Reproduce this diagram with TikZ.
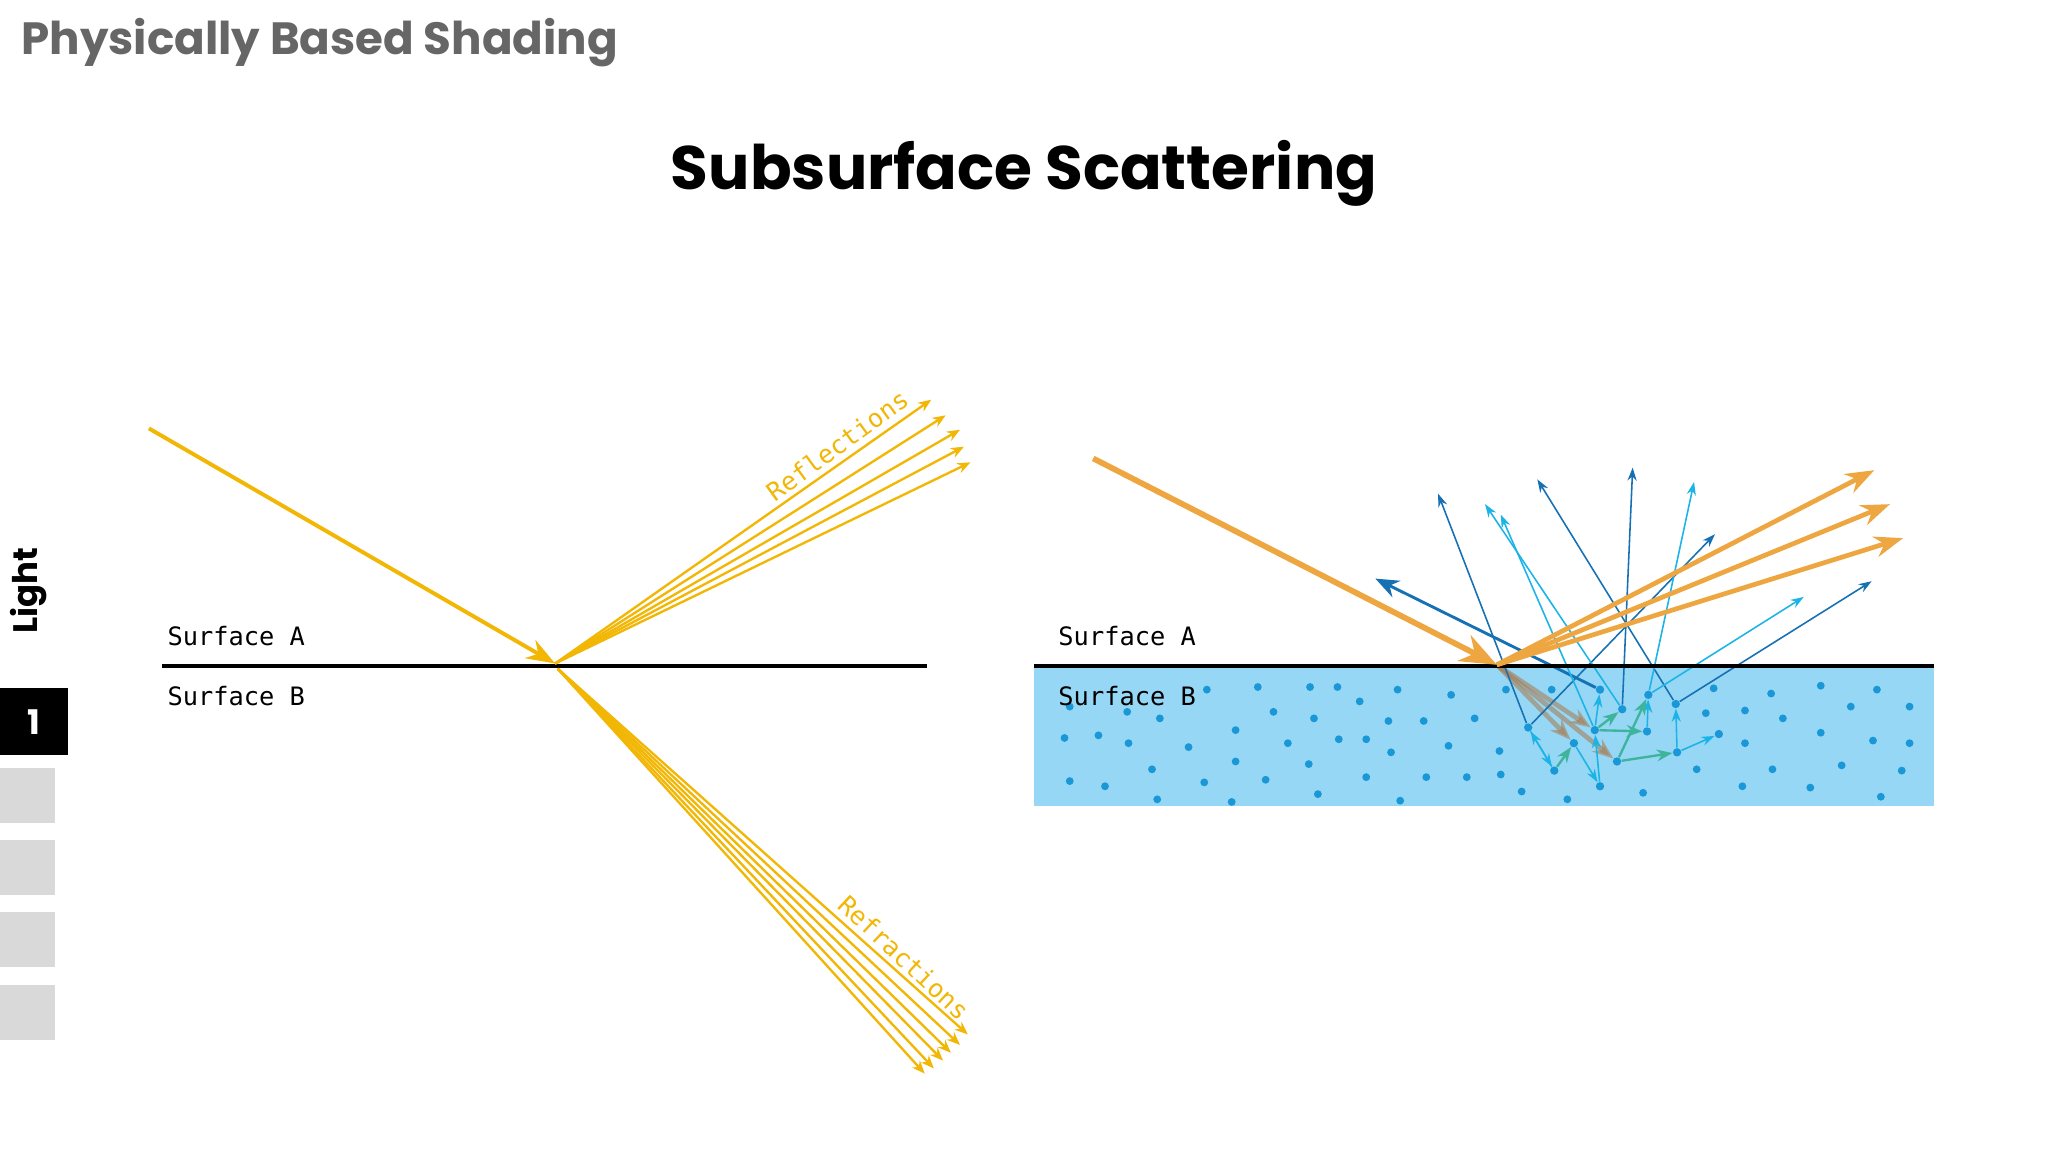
\documentclass[tikz,border=0pt]{standalone}
\usepackage{fontspec}
\setmainfont{Poppins}
\newfontfamily\monof{DejaVu Sans Mono}
\usetikzlibrary{arrows.meta}
\definecolor{ylw}{HTML}{F2B705}
\definecolor{org}{HTML}{EDA640}
\definecolor{water}{HTML}{95D7F4}
\definecolor{dotc}{HTML}{1A97D6}
\definecolor{dkb}{HTML}{1670B4}
\definecolor{ltb}{HTML}{1CB4E6}
\definecolor{grn}{HTML}{3FB49C}
\definecolor{hdr}{HTML}{666666}
\definecolor{tab}{HTML}{D9D9D9}
\tikzset{
 ray/.style={ylw,line width=0.9pt,-{Stealth[length=5pt,width=4pt]}},
 big/.style={org,line width=2.2pt,-{Stealth[length=14pt,width=11pt]}},
 bigr/.style={org,line width=1.8pt,-{Stealth[length=11pt,width=8pt]}},
 dk/.style={dkb,line width=0.6pt,-{Stealth[length=5pt,width=3.5pt]}},
 lt/.style={ltb,line width=0.6pt,-{Stealth[length=5pt,width=3.5pt]}},
 gr/.style={grn,line width=0.9pt,-{Stealth[length=6pt,width=4.5pt]}},
 inner/.style={gray!70!orange,opacity=0.6,line width=1.8pt,-{Stealth[length=8pt,width=6pt]}},
 lbl/.style={font=\monof\fontsize{9.7}{12}\selectfont,inner sep=0pt},
 dot/.style={circle,fill=dotc,inner sep=0pt,minimum size=3.2pt},
}
\begin{document}
\begin{tikzpicture}[x=0.5pt,y=-0.5pt]
\useasboundingbox (0,0) rectangle (1568,882);
\fill[white] (0,0) rectangle (1568,882);
% header
\node[anchor=west,text=hdr,font=\fontsize{17.3}{20}\selectfont\bfseries,inner sep=0pt] (hdr) at (16,33) {Physically Based Shading};
\node[font=\fontsize{23.5}{28}\selectfont\bfseries,inner sep=0pt] (title) at (784,133) {Subsurface Scattering};
% side tabs
\node[rotate=90,font=\fontsize{13}{15}\selectfont\bfseries,inner sep=0pt] (light) at (22,452) {Light};
\fill[black] (0,527) rectangle (52,578);
\node[text=white,font=\fontsize{13}{15}\selectfont\bfseries] (one) at (26,553) {1};
\foreach \y in {588,643,698,754} \fill[tab] (0,\y) rectangle (42,\y+42);
% left panel
\coordinate (hitL) at (425,508);
\coordinate (srcL) at (114,328);
\coordinate (inL) at (427,512);
\draw[ylw,line width=1.5pt,-{Stealth[length=11pt,width=8pt]}] (srcL) -- (hitL);
\draw[black,line width=1.5pt] (124,510) coordinate (sl1) -- (710,510) coordinate (sl2);
\node[lbl,anchor=west] (sA) at (128,487) {Surface A};
\node[lbl,anchor=west] (sB) at (128,533) {Surface B};
\foreach \x/\y in {713/306,724/318,735/329,738/342,743/354}
  \draw[ray] (hitL) -- (\x,\y);
\foreach \x/\y in {708/822,715/818,722/812,728/806,735/800,741/792}
  \draw[ray] (inL) -- (\x,\y);
\node[lbl,text=ylw,rotate=36] (refl) at (641,341) {Reflections};
\node[lbl,text=ylw,rotate=-43] (refr) at (692,733) {Refractions};
% right panel
\fill[water] (792,510) rectangle (1481,617);
\foreach \x/\y in {819/541,863/545,888/550,924/528,963/526,1003/526,1024/526,1041/537,1070/528,1111/532,1153/528,1188/528,1312/527,1356/531,1394/525,1437/528,1462/541,1417/541,1336/544,1306/546,1365/550,1129/550,1090/552,1063/552,1006/550,975/545,1462/569,1434/567,1394/561,1336/569,815/565,841/563,864/569,910/572,946/559,986/569,1025/566,1046/566,1065/576,1109/571,1148/575,882/589,946/583,1002/585,819/598,846/602,922/599,969/597,1046/595,1092/595,1123/595,1149/593,1299/589,1357/589,1410/586,1456/590,886/612,943/614,1009/608,1072/613,1165/606,1200/612,1258/607,1334/602,1386/603,1440/610}
  \fill[dotc] (\x,\y) circle (3);
\node[dot] (p1) at (1225,528) {};
\node[dot] (p2) at (1262,532) {};
\node[dot] (p3) at (1242,543) {};
\node[dot] (p4) at (1283,539) {};
\node[dot] (p5) at (1170,557) {};
\node[dot] (p6) at (1221,559) {};
\node[dot] (p7) at (1261,560) {};
\node[dot] (p8) at (1316,562) {};
\node[dot] (p9) at (1205,569) {};
\node[dot] (p10) at (1238,583) {};
\node[dot] (p11) at (1284,576) {};
\node[dot] (p12) at (1190,590) {};
\node[dot] (p13) at (1225,602) {};
\coordinate (hitR) at (1146,509);
% inner translucent
\draw[inner] (hitR) -- (p6);
\draw[inner] (hitR) -- (p9);
\draw[inner] (hitR) -- (p10);
% inner blue
\draw[lt] (p12) -- (p5);
\draw[lt] (p13) -- (p6);
\draw[lt] (p6) -- (p1);
\draw[lt] (p7) -- (p2);
\draw[lt] (p11) -- (p4);
\draw[lt] (p11) -- (p8);
\draw[lt] (p9) -- (p13);
\draw[lt] (p5) -- (p12);
% green
\draw[gr] (p12) -- (p9);
\draw[gr] (p6) -- (p3);
\draw[gr] (p6) -- (p7);
\draw[gr] (p10) -- (p2);
\draw[gr] (p10) -- (p11);
% exit rays
\draw[dkb,line width=1.1pt,-{Stealth[length=9pt,width=7pt]}] (p1) -- (1053,443);
\draw[dk] (p5) -- (1313,409);
\draw[dk] (p5) -- (1101,378);
\draw[dk] (p4) -- (1177,367);
\draw[dk] (p4) -- (1433,445);
\draw[dk] (p3) -- (1250,358);
\draw[lt] (p2) -- (1297,369);
\draw[lt] (p3) -- (1137,386);
\draw[lt] (p6) -- (1149,394);
\draw[lt] (p2) -- (1381,457);
% surface line and labels
\draw[black,line width=1.5pt] (792,510) coordinate (sr1) -- (1481,510) coordinate (sr2);
\node[lbl,anchor=west] (sA2) at (810,487) {Surface A};
\node[lbl,anchor=west] (sB2) at (810,533) {Surface B};
% orange
\draw[big] (837,351) coordinate (srcR) -- (hitR);
\draw[bigr] (hitR) -- (1435,360);
\draw[bigr] (hitR) -- (1447,386);
\draw[bigr] (hitR) -- (1457,412);
\end{tikzpicture}
\end{document}
